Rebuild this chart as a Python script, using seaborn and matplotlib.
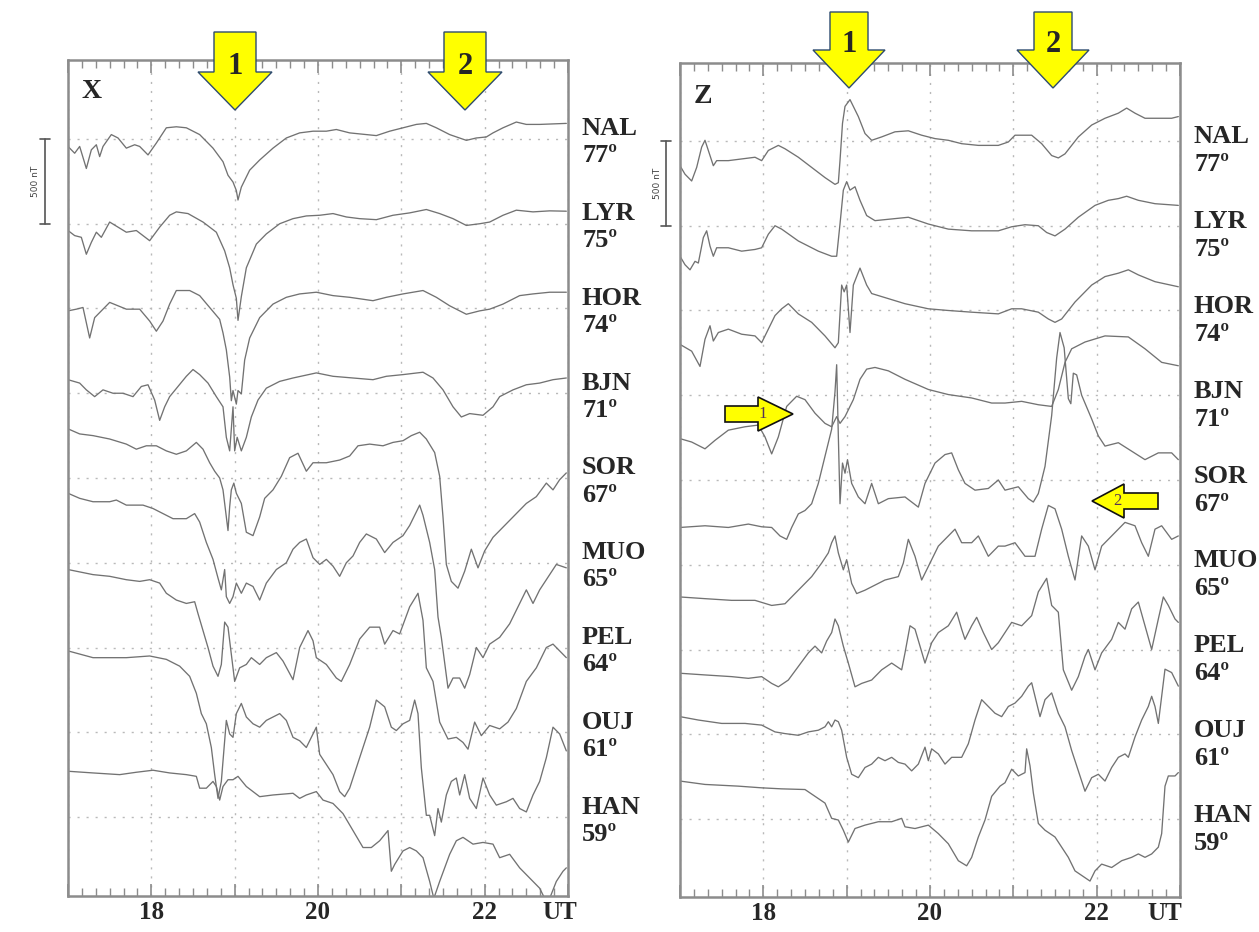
import matplotlib
matplotlib.use("Agg")
import matplotlib.pyplot as plt
import matplotlib.transforms as mtransforms
from matplotlib.patches import Polygon
from matplotlib.ticker import MultipleLocator
import pandas as pd
import seaborn as sns

# ---------------- data (time in UT hours, deviation in nT) ----------------
STATIONS = ["NAL", "LYR", "HOR", "BJN", "SOR", "MUO", "PEL", "OUJ", "HAN"]
LATITUDES = ["77º", "75º", "74º", "71º", "67º", "65º", "64º", "61º", "59º"]
HOUR_TICK_LABELS = ["", "18", "", "20", "", "22", ""]
SPACING_NT = 500
SCALE_BAR_LABEL = "500 nT"

X_NAL = [(17.00,-44),(17.08,-84),(17.14,-44),(17.22,-174),(17.28,-64),(17.34,-34),(17.38,-104),(17.42,-44),(17.52,26),(17.60,6),(17.70,-54),(17.80,-34),(17.86,-44),(17.96,-94),(18.06,-24),(18.18,66),(18.30,72),(18.42,66),(18.58,26),(18.74,-54),(18.86,-134),(18.92,-214),(18.98,-254),(19.02,-304),(19.04,-360),(19.08,-284),(19.18,-184),(19.30,-124),(19.46,-54),(19.62,6),(19.78,36),(19.94,46),(20.10,46),(20.22,56),(20.38,36),(20.58,26),(20.70,20),(20.86,46),(21.02,66),(21.18,86),(21.30,92),(21.42,66),(21.58,26),(21.78,-8),(21.90,6),(22.02,12),(22.10,36),(22.22,66),(22.38,100),(22.50,86),(22.66,86),(22.98,92)]
X_LYR = [(17.00,-40),(17.08,-70),(17.16,-80),(17.22,-180),(17.28,-110),(17.34,-50),(17.40,-80),(17.50,10),(17.60,-20),(17.70,-50),(17.82,-40),(17.98,-100),(18.10,-20),(18.22,50),(18.30,70),(18.44,60),(18.62,10),(18.78,-50),(18.88,-160),(18.94,-260),(18.98,-360),(19.02,-440),(19.04,-570),(19.08,-430),(19.14,-260),(19.26,-120),(19.38,-60),(19.54,0),(19.70,30),(19.86,46),(20.02,50),(20.18,60),(20.34,40),(20.50,30),(20.70,24),(20.90,50),(21.10,64),(21.30,84),(21.46,60),(21.62,30),(21.78,-10),(21.94,0),(22.06,10),(22.22,50),(22.38,80),(22.58,70),(22.78,76),(22.98,74)]
X_HOR = [(17.00,-14),(17.10,-4),(17.18,6),(17.26,-174),(17.32,-54),(17.40,-14),(17.50,36),(17.60,16),(17.70,-4),(17.86,-4),(17.98,-74),(18.06,-134),(18.14,-74),(18.22,26),(18.30,106),(18.46,106),(18.58,76),(18.70,6),(18.82,-64),(18.86,-144),(18.90,-244),(18.94,-404),(18.96,-544),(18.98,-484),(19.02,-564),(19.04,-484),(19.08,-504),(19.12,-304),(19.18,-174),(19.30,-54),(19.46,26),(19.62,66),(19.78,86),(19.98,96),(20.18,76),(20.38,66),(20.66,46),(20.82,66),(21.02,86),(21.26,106),(21.42,66),(21.58,16),(21.78,-34),(21.94,-14),(22.06,-4),(22.22,26),(22.42,76),(22.58,86),(22.78,96),(22.98,96)]
X_BJN = [(17.00,80),(17.14,60),(17.22,20),(17.32,-20),(17.42,20),(17.54,0),(17.66,0),(17.78,-20),(17.88,40),(17.96,50),(18.04,-40),(18.10,-160),(18.16,-80),(18.22,-20),(18.32,40),(18.42,100),(18.50,140),(18.58,110),(18.68,60),(18.78,-20),(18.86,-80),(18.90,-260),(18.94,-340),(18.98,-80),(19.00,-340),(19.03,-260),(19.08,-340),(19.14,-260),(19.20,-140),(19.28,-40),(19.38,30),(19.54,70),(19.70,90),(19.98,120),(20.18,100),(20.42,90),(20.66,80),(20.82,100),(21.02,110),(21.26,124),(21.38,90),(21.50,20),(21.62,-80),(21.72,-140),(21.82,-120),(21.98,-130),(22.10,-80),(22.18,-20),(22.34,20),(22.50,50),(22.66,60),(22.82,80),(22.98,90)]
X_SOR = [(17.00,290),(17.14,260),(17.30,250),(17.50,230),(17.70,200),(17.82,170),(17.94,190),(18.06,190),(18.18,160),(18.30,140),(18.42,160),(18.54,210),(18.62,170),(18.70,90),(18.76,40),(18.82,0),(18.86,-70),(18.90,-230),(18.92,-310),(18.94,-170),(18.96,-70),(18.99,-30),(19.02,-90),(19.08,-150),(19.14,-320),(19.22,-340),(19.30,-230),(19.36,-120),(19.46,-70),(19.56,10),(19.66,120),(19.76,146),(19.86,40),(19.94,90),(20.10,90),(20.26,106),(20.38,130),(20.48,190),(20.62,200),(20.78,190),(20.90,210),(21.02,220),(21.12,250),(21.22,270),(21.30,230),(21.40,150),(21.46,10),(21.50,-230),(21.54,-510),(21.60,-610),(21.68,-650),(21.76,-550),(21.84,-420),(21.92,-530),(22.00,-430),(22.10,-350),(22.22,-290),(22.34,-230),(22.42,-190),(22.50,-150),(22.62,-110),(22.74,-30),(22.82,-70),(22.90,-10),(22.98,30)]
X_MUO = [(17.00,410),(17.14,380),(17.30,360),(17.50,360),(17.58,370),(17.70,340),(17.90,340),(18.02,320),(18.10,300),(18.26,260),(18.42,260),(18.52,290),(18.58,240),(18.66,120),(18.74,20),(18.80,-90),(18.84,-160),(18.88,-40),(18.90,-200),(18.94,-240),(18.98,-200),(19.02,-120),(19.08,-180),(19.14,-120),(19.22,-140),(19.30,-220),(19.38,-120),(19.50,-40),(19.62,0),(19.70,80),(19.78,120),(19.86,140),(19.94,30),(20.02,-10),(20.10,20),(20.18,-20),(20.26,-80),(20.34,0),(20.42,40),(20.50,120),(20.58,170),(20.70,140),(20.80,60),(20.90,120),(21.02,160),(21.10,220),(21.22,340),(21.26,280),(21.34,120),(21.40,-40),(21.44,-320),(21.48,-440),(21.56,-740),(21.62,-680),(21.70,-680),(21.76,-740),(21.82,-660),(21.90,-500),(21.98,-560),(22.06,-480),(22.18,-440),(22.30,-360),(22.42,-240),(22.50,-160),(22.58,-240),(22.66,-160),(22.74,-100),(22.86,-10),(22.98,-30)]
X_PEL = [(17.00,460),(17.30,430),(17.50,420),(17.70,400),(17.86,390),(17.98,400),(18.10,380),(18.18,320),(18.30,280),(18.42,260),(18.52,270),(18.56,200),(18.62,100),(18.68,0),(18.74,-110),(18.80,-170),(18.84,-100),(18.88,150),(18.92,120),(18.96,-40),(19.00,-200),(19.06,-120),(19.14,-100),(19.20,-60),(19.30,-100),(19.38,-60),(19.50,-30),(19.58,-80),(19.70,-190),(19.78,0),(19.88,100),(19.94,40),(19.98,-60),(20.10,-100),(20.22,-180),(20.28,-200),(20.38,-100),(20.50,50),(20.62,120),(20.74,120),(20.80,20),(20.90,100),(20.98,80),(21.10,240),(21.20,320),(21.26,160),(21.30,-120),(21.38,-200),(21.46,-440),(21.56,-540),(21.66,-530),(21.74,-560),(21.80,-600),(21.88,-440),(21.96,-520),(22.06,-460),(22.18,-480),(22.28,-440),(22.38,-360),(22.50,-200),(22.62,-120),(22.74,0),(22.82,20),(22.90,-20),(22.98,-60)]
X_OUJ = [(17.00,480),(17.30,440),(17.70,440),(17.98,450),(18.18,430),(18.34,390),(18.46,330),(18.54,230),(18.60,110),(18.66,50),(18.72,-90),(18.76,-250),(18.80,-390),(18.84,-290),(18.90,70),(18.94,-10),(18.98,-30),(19.02,110),(19.08,170),(19.14,90),(19.22,50),(19.30,30),(19.38,70),(19.46,90),(19.54,110),(19.62,70),(19.70,-30),(19.78,-50),(19.86,-90),(19.94,-10),(19.98,30),(20.02,-130),(20.10,-190),(20.18,-250),(20.26,-350),(20.32,-380),(20.38,-330),(20.46,-210),(20.54,-90),(20.62,30),(20.70,190),(20.80,150),(20.88,30),(20.94,10),(21.02,50),(21.10,70),(21.16,190),(21.20,110),(21.24,-210),(21.30,-490),(21.34,-490),(21.40,-610),(21.44,-450),(21.48,-530),(21.54,-370),(21.60,-290),(21.66,-270),(21.70,-370),(21.76,-250),(21.82,-390),(21.90,-450),(21.98,-270),(22.06,-370),(22.14,-430),(22.26,-410),(22.34,-390),(22.42,-450),(22.50,-470),(22.58,-370),(22.66,-290),(22.74,-150),(22.82,30),(22.90,-10),(22.98,-110)]
X_HAN = [(17.00,270),(17.30,260),(17.62,250),(17.82,264),(18.02,276),(18.22,260),(18.42,250),(18.54,240),(18.58,170),(18.66,170),(18.74,210),(18.78,180),(18.82,100),(18.86,180),(18.92,220),(18.98,220),(19.04,240),(19.14,180),(19.30,120),(19.46,130),(19.70,140),(19.78,110),(19.86,130),(19.98,150),(20.06,100),(20.18,80),(20.30,20),(20.42,-80),(20.54,-180),(20.64,-180),(20.74,-140),(20.84,-80),(20.88,-320),(20.92,-280),(21.02,-200),(21.10,-180),(21.18,-200),(21.26,-240),(21.34,-380),(21.39,-480),(21.46,-380),(21.58,-220),(21.66,-140),(21.74,-120),(21.86,-160),(21.98,-150),(22.10,-160),(22.18,-240),(22.30,-220),(22.42,-300),(22.58,-380),(22.66,-420),(22.72,-480),(22.78,-480),(22.86,-380),(22.94,-320),(22.98,-300)]

Z_NAL = [(17.00,-146),(17.06,-196),(17.14,-236),(17.20,-156),(17.26,-36),(17.30,4),(17.34,-56),(17.40,-146),(17.44,-116),(17.58,-116),(17.74,-106),(17.90,-96),(17.98,-116),(18.06,-56),(18.18,-26),(18.26,-46),(18.42,-96),(18.58,-156),(18.74,-216),(18.86,-256),(18.90,-246),(18.92,-116),(18.95,104),(18.98,204),(19.04,244),(19.08,204),(19.14,144),(19.22,44),(19.30,4),(19.42,24),(19.58,54),(19.74,60),(19.90,34),(20.06,14),(20.22,4),(20.38,-16),(20.58,-26),(20.82,-26),(20.94,-6),(21.02,34),(21.22,34),(21.34,-16),(21.46,-86),(21.54,-100),(21.62,-76),(21.78,24),(21.94,94),(22.10,134),(22.26,164),(22.36,194),(22.46,164),(22.58,134),(22.74,134),(22.90,134),(22.98,144)]
Z_LYR = [(17.00,-180),(17.06,-230),(17.12,-260),(17.18,-210),(17.22,-220),(17.28,-70),(17.32,-30),(17.36,-120),(17.40,-180),(17.44,-130),(17.58,-130),(17.74,-150),(17.90,-140),(17.98,-130),(18.06,-50),(18.14,0),(18.22,-20),(18.42,-90),(18.66,-150),(18.82,-180),(18.88,-180),(18.92,10),(18.96,210),(19.00,260),(19.04,210),(19.10,230),(19.16,150),(19.24,60),(19.34,30),(19.54,40),(19.74,50),(19.98,10),(20.22,-20),(20.50,-30),(20.82,-30),(20.98,-6),(21.14,6),(21.30,0),(21.40,-40),(21.50,-60),(21.62,-20),(21.78,50),(21.98,120),(22.14,150),(22.26,160),(22.36,174),(22.50,150),(22.70,130),(22.98,120)]
Z_HOR = [(17.00,-200),(17.14,-240),(17.24,-330),(17.30,-170),(17.36,-90),(17.40,-180),(17.46,-130),(17.58,-110),(17.74,-140),(17.90,-150),(17.98,-190),(18.06,-110),(18.14,-30),(18.22,10),(18.30,40),(18.42,-20),(18.58,-70),(18.74,-150),(18.86,-220),(18.90,-190),(18.94,150),(18.97,110),(19.00,150),(19.04,-130),(19.08,150),(19.16,250),(19.24,150),(19.30,100),(19.50,70),(19.70,40),(19.98,10),(20.22,0),(20.50,-10),(20.82,-20),(20.98,10),(21.10,10),(21.30,-10),(21.42,-50),(21.50,-70),(21.58,-50),(21.74,50),(21.94,150),(22.10,200),(22.26,220),(22.38,240),(22.50,210),(22.70,170),(22.98,140)]
Z_BJN = [(17.00,-256),(17.14,-276),(17.30,-316),(17.42,-266),(17.58,-206),(17.78,-186),(17.94,-176),(18.02,-246),(18.10,-346),(18.18,-246),(18.28,-66),(18.40,-6),(18.50,-26),(18.62,-106),(18.74,-166),(18.82,-186),(18.88,-126),(18.92,-166),(18.98,-126),(19.08,-26),(19.16,94),(19.24,154),(19.34,164),(19.50,144),(19.70,94),(19.98,34),(20.22,4),(20.50,-16),(20.74,-46),(20.90,-46),(21.10,-36),(21.30,-56),(21.46,-66),(21.54,34),(21.62,194),(21.70,274),(21.86,314),(22.10,350),(22.38,344),(22.58,274),(22.78,194),(22.98,174)]
Z_SOR = [(17.00,-280),(17.30,-270),(17.58,-280),(17.82,-260),(17.98,-276),(18.10,-280),(18.20,-330),(18.28,-350),(18.34,-280),(18.42,-200),(18.50,-180),(18.58,-140),(18.66,-20),(18.74,140),(18.82,300),(18.86,520),(18.88,680),(18.90,260),(18.92,-140),(18.95,100),(18.98,40),(19.01,120),(19.06,-20),(19.14,-100),(19.22,-140),(19.30,-20),(19.38,-140),(19.50,-110),(19.70,-100),(19.86,-160),(19.94,-20),(20.06,100),(20.18,150),(20.26,160),(20.34,60),(20.42,-20),(20.54,-60),(20.70,-50),(20.82,0),(20.90,-60),(21.06,-40),(21.18,-110),(21.24,-130),(21.30,-80),(21.38,80),(21.46,380),(21.52,720),(21.56,870),(21.61,780),(21.66,480),(21.69,450),(21.72,630),(21.76,620),(21.82,500),(21.94,360),(22.02,260),(22.10,200),(22.26,220),(22.42,170),(22.58,120),(22.74,160),(22.90,160),(22.98,120)]
Z_MUO = [(17.00,-190),(17.30,-200),(17.62,-210),(17.90,-210),(18.10,-240),(18.26,-230),(18.42,-150),(18.58,-70),(18.70,10),(18.78,70),(18.82,130),(18.86,170),(18.90,70),(18.96,-30),(19.00,30),(19.06,-110),(19.12,-170),(19.22,-150),(19.30,-130),(19.46,-90),(19.62,-70),(19.68,10),(19.74,150),(19.82,50),(19.90,-90),(19.98,-10),(20.10,110),(20.22,170),(20.30,210),(20.38,130),(20.50,130),(20.58,170),(20.70,50),(20.82,110),(20.90,110),(21.02,130),(21.14,50),(21.26,50),(21.34,210),(21.42,350),(21.50,330),(21.58,210),(21.66,50),(21.74,-90),(21.82,170),(21.90,110),(21.98,-30),(22.06,110),(22.18,170),(22.26,210),(22.34,250),(22.46,230),(22.54,130),(22.62,50),(22.70,210),(22.78,230),(22.90,150),(22.98,170)]
Z_PEL = [(17.00,-140),(17.30,-150),(17.62,-160),(17.82,-170),(17.98,-160),(18.10,-200),(18.18,-220),(18.30,-180),(18.42,-100),(18.54,-20),(18.62,20),(18.70,-20),(18.76,50),(18.82,100),(18.86,180),(18.90,140),(18.96,20),(19.02,-80),(19.10,-220),(19.18,-200),(19.30,-180),(19.42,-120),(19.54,-80),(19.66,-120),(19.70,-20),(19.76,140),(19.82,120),(19.88,20),(19.94,-80),(20.02,40),(20.10,100),(20.22,140),(20.32,220),(20.38,120),(20.42,60),(20.50,140),(20.56,190),(20.64,100),(20.74,0),(20.82,40),(20.90,100),(20.98,160),(21.10,140),(21.22,200),(21.30,340),(21.40,420),(21.46,260),(21.54,220),(21.60,-120),(21.70,-240),(21.78,-160),(21.86,-40),(21.90,0),(21.98,-120),(22.06,-20),(22.18,60),(22.26,160),(22.34,120),(22.42,240),(22.50,280),(22.58,140),(22.66,0),(22.74,180),(22.80,310),(22.86,260),(22.94,180),(22.98,160)]
Z_OUJ = [(17.00,104),(17.22,84),(17.50,64),(17.78,64),(17.98,54),(18.14,14),(18.26,4),(18.42,-6),(18.54,14),(18.66,24),(18.74,44),(18.78,74),(18.82,44),(18.86,84),(18.90,74),(18.94,24),(19.00,-136),(19.06,-236),(19.14,-256),(19.22,-196),(19.30,-176),(19.38,-136),(19.46,-156),(19.54,-136),(19.62,-166),(19.70,-176),(19.78,-216),(19.86,-176),(19.94,-76),(19.98,-156),(20.02,-86),(20.10,-116),(20.18,-176),(20.26,-136),(20.38,-136),(20.46,-56),(20.54,84),(20.62,204),(20.70,164),(20.78,124),(20.86,104),(20.94,164),(21.02,184),(21.10,224),(21.18,284),(21.22,304),(21.26,224),(21.32,104),(21.38,204),(21.46,244),(21.54,124),(21.62,44),(21.70,-96),(21.78,-216),(21.86,-336),(21.94,-256),(22.02,-236),(22.10,-276),(22.18,-196),(22.26,-136),(22.34,-116),(22.38,-136),(22.46,-16),(22.54,84),(22.62,164),(22.66,224),(22.70,164),(22.74,64),(22.78,224),(22.82,384),(22.90,364),(22.98,284)]
Z_HAN = [(17.00,224),(17.30,204),(17.70,194),(17.98,184),(18.22,178),(18.50,174),(18.62,134),(18.74,94),(18.82,4),(18.90,-6),(18.96,-66),(19.02,-136),(19.10,-56),(19.22,-36),(19.38,-16),(19.54,-16),(19.66,4),(19.70,-46),(19.82,-56),(19.98,-36),(20.10,-86),(20.22,-146),(20.34,-246),(20.44,-276),(20.50,-226),(20.58,-106),(20.66,-6),(20.74,134),(20.84,194),(20.90,214),(20.98,294),(21.06,254),(21.14,274),(21.16,414),(21.20,314),(21.24,154),(21.30,-26),(21.38,-66),(21.50,-106),(21.58,-166),(21.66,-226),(21.74,-306),(21.86,-346),(21.92,-366),(21.98,-306),(22.06,-266),(22.18,-286),(22.30,-246),(22.42,-226),(22.50,-206),(22.58,-226),(22.66,-206),(22.74,-166),(22.78,-86),(22.82,194),(22.86,254),(22.94,254),(22.98,274)]

X_SERIES = [X_NAL, X_LYR, X_HOR, X_BJN, X_SOR, X_MUO, X_PEL, X_OUJ, X_HAN]
Z_SERIES = [Z_NAL, Z_LYR, Z_HOR, Z_BJN, Z_SOR, Z_MUO, Z_PEL, Z_OUJ, Z_HAN]


def build_frame(series):
    rows = []
    for i, (name, pts) in enumerate(zip(STATIONS, series)):
        for t, v in pts:
            rows.append({"station": name, "t": t, "y": -SPACING_NT * i + v})
    return pd.DataFrame(rows)


# ---------------- figure ----------------
W, H = 1259, 932
sns.set_style("white")
plt.rcParams["font.family"] = ["Liberation Serif", "DejaVu Serif"]

fig = plt.figure(figsize=(W / 100, H / 100), dpi=100)


def fx(x):
    return x / W


def fy(y):
    return 1 - y / H


axL = fig.add_axes([fx(68), fy(896), 500 / W, 836 / H])
axR = fig.add_axes([fx(680), fy(897), 500 / W, 834 / H])

TRACE_COLOR = "#727272"
SPINE_COLOR = "#8c8c8c"
GRID_COLOR = "#b9b9b9"
TICK_FS = 18
TICK_PAD = 3.5

panels = [
    (axL, X_SERIES, "X", 466, (-10, 17), (92, 92), 45, 35, 22.9),
    (axR, Z_SERIES, "Z", 460, (-4, 24), (703, 97), 666, 657, 22.82),
]

for ax, series, comp, margin, (dn, dl), (lx, ly), barx, bartx, ut_x in panels:
    df = build_frame(series)
    sns.lineplot(data=df, x="t", y="y", units="station", estimator=None,
                 sort=False, color=TRACE_COLOR, lw=0.95, ax=ax, legend=False)
    ax.set_xlim(17, 23)
    top = margin
    bottom = -SPACING_NT * (len(STATIONS) - 1) - margin
    ax.set_ylim(bottom, top)
    ax.set_xlabel("")
    ax.set_ylabel("")

    ax.set_xticks(range(17, 24))
    ax.set_xticklabels(HOUR_TICK_LABELS)
    ax.xaxis.set_minor_locator(MultipleLocator(1 / 6))
    ax.set_yticks([-SPACING_NT * i for i in range(len(STATIONS))])
    ax.set_yticklabels([])
    ax.tick_params(axis="x", which="major", direction="in", length=9, width=1.2,
                   top=True, bottom=True, color=SPINE_COLOR, pad=TICK_PAD,
                   labelsize=TICK_FS)
    ax.tick_params(axis="x", which="minor", direction="in", length=6, width=1.0,
                   top=True, bottom=True, color=SPINE_COLOR)
    ax.tick_params(axis="y", which="both", length=0)
    for lab in ax.get_xticklabels():
        lab.set_fontweight("bold")
    ax.grid(True, which="major", color=GRID_COLOR, linestyle=(0, (1.5, 5)), lw=1.0)
    for sp in ax.spines.values():
        sp.set_color(SPINE_COLOR)
        sp.set_linewidth(1.8)
        sp.set_visible(True)

    # UT label, aligned with tick labels
    ax.annotate("UT", xy=(ut_x, 0), xycoords=mtransforms.blended_transform_factory(ax.transData, ax.transAxes),
                xytext=(0, -TICK_PAD), textcoords="offset points", ha="center", va="top",
                fontsize=TICK_FS, fontweight="bold", annotation_clip=False)

    # component label
    fig.text(fx(lx), fy(ly), comp, ha="center", va="center", fontsize=20, fontweight="bold")

    # station labels
    trans = mtransforms.blended_transform_factory(ax.transAxes, ax.transData)
    px_nt = (top - bottom) / ax.bbox.height
    for i, (name, lat) in enumerate(zip(STATIONS, LATITUDES)):
        yref = -SPACING_NT * i
        ax.text(1.028, yref - dn * px_nt, name, transform=trans, ha="left", va="center",
                fontsize=19, fontweight="bold", clip_on=False)
        ax.text(1.028, yref - dl * px_nt, lat, transform=trans, ha="left", va="center",
                fontsize=19, fontweight="bold", clip_on=False)

    # 500 nT scale bar
    bx = (barx - ax.bbox.x0) / ax.bbox.width
    cap = 5 / ax.bbox.width
    ax.plot([bx, bx], [0, -SPACING_NT], transform=trans, color="#555555", lw=1.2, clip_on=False)
    for yy in (0, -SPACING_NT):
        ax.plot([bx - cap, bx + cap], [yy, yy], transform=trans, color="#555555", lw=1.2, clip_on=False)
    tx = (bartx - ax.bbox.x0) / ax.bbox.width
    ax.text(tx, -SPACING_NT / 2, SCALE_BAR_LABEL, transform=trans, rotation=90, ha="center",
            va="center", fontsize=6.5, family="DejaVu Sans", color="#444444", clip_on=False)


# ---------------- yellow block arrows ----------------
ARROW_FILL = "#ffff00"
ARROW_EDGE = "#2d4b6e"


def down_arrow(cx, y0, yb, yt, sw, hw, label, fs, ly):
    pts = [(cx - sw, y0), (cx + sw, y0), (cx + sw, yb), (cx + hw, yb), (cx, yt),
           (cx - hw, yb), (cx - sw, yb)]
    fig.patches.append(Polygon([(fx(x), fy(y)) for x, y in pts], closed=True,
                               transform=fig.transFigure, facecolor=ARROW_FILL,
                               edgecolor=ARROW_EDGE, lw=1.0, zorder=5))
    fig.text(fx(cx), fy(ly), label, ha="center", va="center",
             fontsize=fs, fontweight="bold", zorder=6)


def side_arrow(x_tail, x_base, x_tip, yc, sw, hw, label, lx):
    pts = [(x_tail, yc - sw), (x_base, yc - sw), (x_base, yc - hw), (x_tip, yc),
           (x_base, yc + hw), (x_base, yc + sw), (x_tail, yc + sw)]
    fig.patches.append(Polygon([(fx(x), fy(y)) for x, y in pts], closed=True,
                               transform=fig.transFigure, facecolor=ARROW_FILL,
                               edgecolor="#111111", lw=1.2, zorder=5))
    fig.text(fx(lx), fy(yc), label, ha="center", va="center", fontsize=12,
             color="#553355", zorder=6)


down_arrow(235, 32, 72, 110, 21, 37, "1", 22, 67)
down_arrow(465, 32, 72, 110, 21, 37, "2", 22, 67)
down_arrow(849, 12, 50, 88, 19, 36, "1", 22, 45)
down_arrow(1053, 12, 50, 88, 19, 36, "2", 22, 45)
side_arrow(725, 758, 793, 414, 8, 17, "1", 763)
side_arrow(1158, 1124, 1092, 501, 8, 17, "2", 1117)

fig.savefig("out.png", dpi=100)
